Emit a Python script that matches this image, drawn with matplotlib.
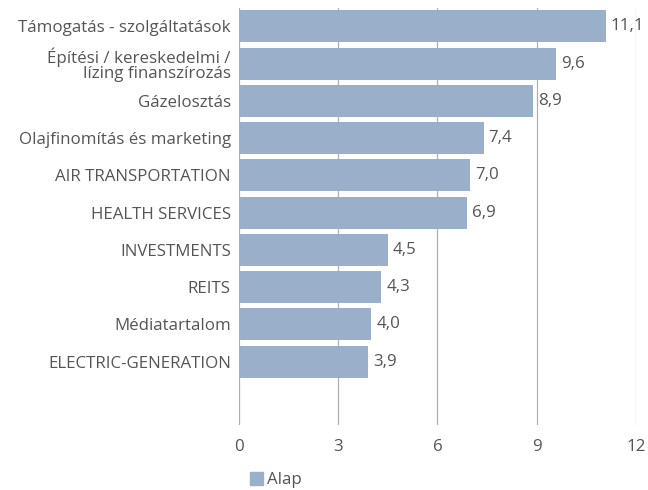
import numpy as np
import matplotlib.pyplot as plt
from matplotlib.patches import Patch

plt.rcParams['font.family'] = ['Open Sans', 'DejaVu Sans']

# ---------- Data ----------
categories = ["Támogatás - szolgáltatások",
              "Építési / kereskedelmi /\nlízing finanszírozás",
              "Gázelosztás",
              "Olajfinomítás és marketing",
              "AIR TRANSPORTATION",
              "HEALTH SERVICES",
              "INVESTMENTS",
              "REITS",
              "Médiatartalom",
              "ELECTRIC-GENERATION"]
values = [11.1, 9.6, 8.9, 7.4, 7.0, 6.9, 4.5, 4.3, 4.0, 3.9]
xticks = [0, 3, 6, 9, 12]

bar_color = "#9AAFC9"
text_color = "#555555"
fs = 12.2

fig = plt.figure(figsize=(6.48, 4.90), dpi=100)
ax = fig.add_axes([0.369, 0.133, 0.612, 0.851])

y = np.arange(len(categories))
ax.barh(y, values, height=0.86, color=bar_color, zorder=2)

for yi, v in zip(y, values):
    ax.text(v + 0.15, yi, f"{v:.1f}".replace(".", ","), va="center", ha="left",
            fontsize=fs, color=text_color, zorder=3)

ax.set_xlim(0, 12)
ax.set_ylim(10.7, -0.5)
ax.set_xticks(xticks)
ax.set_xticklabels([str(t) for t in xticks], fontsize=fs, color=text_color)
ax.set_yticks(y)
ax.set_yticklabels(categories, fontsize=fs, color=text_color, linespacing=0.9)

ax.grid(axis="x", color="#B0B0B0", linewidth=0.9, zorder=0)
for s in ax.spines.values():
    s.set_visible(False)
ax.tick_params(axis="both", length=0)
ax.tick_params(axis="x", pad=10)
ax.tick_params(axis="y", pad=6)

fig.legend(handles=[Patch(color=bar_color, label="Alap")], loc="lower left",
           bbox_to_anchor=(0.362, -0.027), frameon=False, fontsize=fs,
           handlelength=0.8, handleheight=0.8, handletextpad=0.2,
           labelcolor=text_color)

fig.savefig("out.png", dpi=100)
